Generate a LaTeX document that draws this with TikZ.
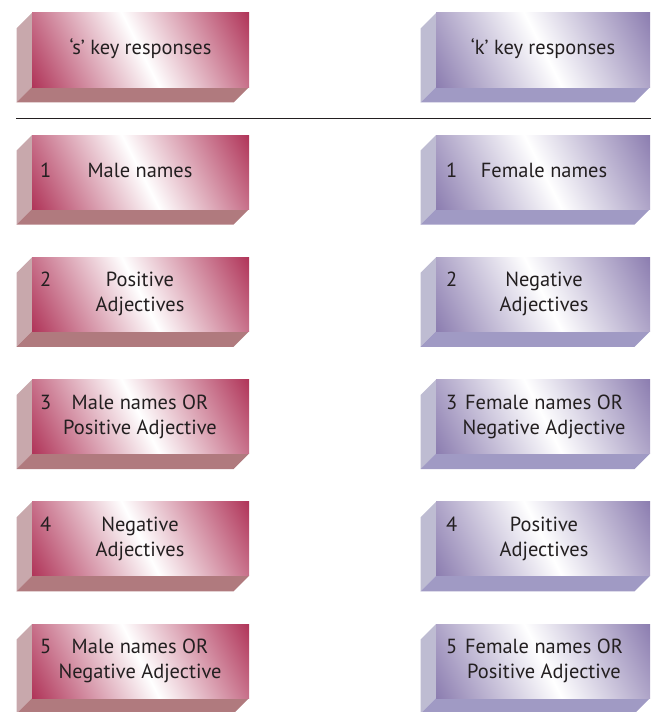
\documentclass[tikz,border=0pt]{standalone}
\usepackage{fontspec}
\setmainfont{PT Sans}
\definecolor{rdk}{RGB}{168,32,72}
\definecolor{pdk}{RGB}{128,112,168}
\definecolor{rside}{RGB}{200,168,172}
\definecolor{rbot}{RGB}{176,122,126}
\definecolor{pside}{RGB}{190,188,210}
\definecolor{pbot}{RGB}{160,154,196}
\definecolor{ink}{RGB}{35,31,32}
\pgfdeclarehorizontalshading{rbar}{100bp}{color(0bp)=(rdk); color(13bp)=(rdk); color(50bp)=(white); color(87bp)=(rdk); color(100bp)=(rdk)}
\pgfdeclarehorizontalshading{pbar}{100bp}{color(0bp)=(pdk); color(13bp)=(pdk); color(50bp)=(white); color(87bp)=(pdk); color(100bp)=(pdk)}
\tikzset{
  face/.style={rectangle, inner sep=0pt, outer sep=0pt, shading angle=27, minimum height=74bp, anchor=north west},
  lbl/.style={inner sep=0pt, align=center, text=ink, font=\fontsize{20.5}{25}\selectfont},
  num/.style={inner sep=0pt, text=ink, font=\fontsize{20.5}{25}\selectfont, anchor=north west},
}
% #1 name, #2 front left x, #3 front top y, #4 width, #5 scheme (r/p)
\newcommand\bevelbox[5]{%
  \fill[#5side] (#2-15.5,#3+15.5) -- (#2,#3) -- (#2,#3+74) -- (#2-15.5,#3+89.5) -- cycle;
  \fill[#5bot] (#2-15.5,#3+89.5) -- (#2,#3+74) -- (#2+#4,#3+74) -- (#2+#4-15.5,#3+89.5) -- cycle;
  \node[face, shading=#5bar, minimum width=#4bp] (#1) at (#2,#3) {};
}
\begin{document}
\begin{tikzpicture}[x=1bp,y=-1bp]
\useasboundingbox (0,0) rectangle (651,712);
% header
\bevelbox{hs}{32}{13}{217}{r}
\bevelbox{hk}{436}{13}{214}{p}
\node[lbl] (ths) at (hs.center) {\strut ‘s’ key responses};
\node[lbl] (thk) at (hk.center) {\strut ‘k’ key responses};
\coordinate (sepL) at (16,118);
\coordinate (sepR) at (651,118);
\draw[line width=0.8pt, ink] (sepL) -- (sepR);
% rows
\foreach \i/\n/\lt/\rt in {
  1/1/{Male names}/{Female names},
  2/2/{Positive\\\strut Adjectives}/{Negative\\\strut Adjectives},
  3/3/{Male names OR\\\strut Positive Adjective}/{Female names OR\\\strut Negative Adjective},
  4/4/{Negative\\\strut Adjectives}/{Positive\\\strut Adjectives},
  5/5/{Male names OR\\\strut Negative Adjective}/{Female names OR\\\strut Positive Adjective}}{
  \pgfmathsetmacro\ty{13+122.2*\i}
  \bevelbox{ls\i}{32}{\ty}{217}{r}
  \bevelbox{rk\i}{436}{\ty}{214}{p}
  \node[lbl] (lt\i) at ([xshift=-0.5bp]ls\i.center) {\strut\lt};
  \node[lbl] (rt\i) at ([xshift=1bp]rk\i.center) {\strut\rt};
  \node[num] (ln\i) at (lt\i.north -| 40,0) {\strut\n};
  \node[num] (rn\i) at (rt\i.north -| 446,0) {\strut\n};
}
\end{tikzpicture}
\end{document}
